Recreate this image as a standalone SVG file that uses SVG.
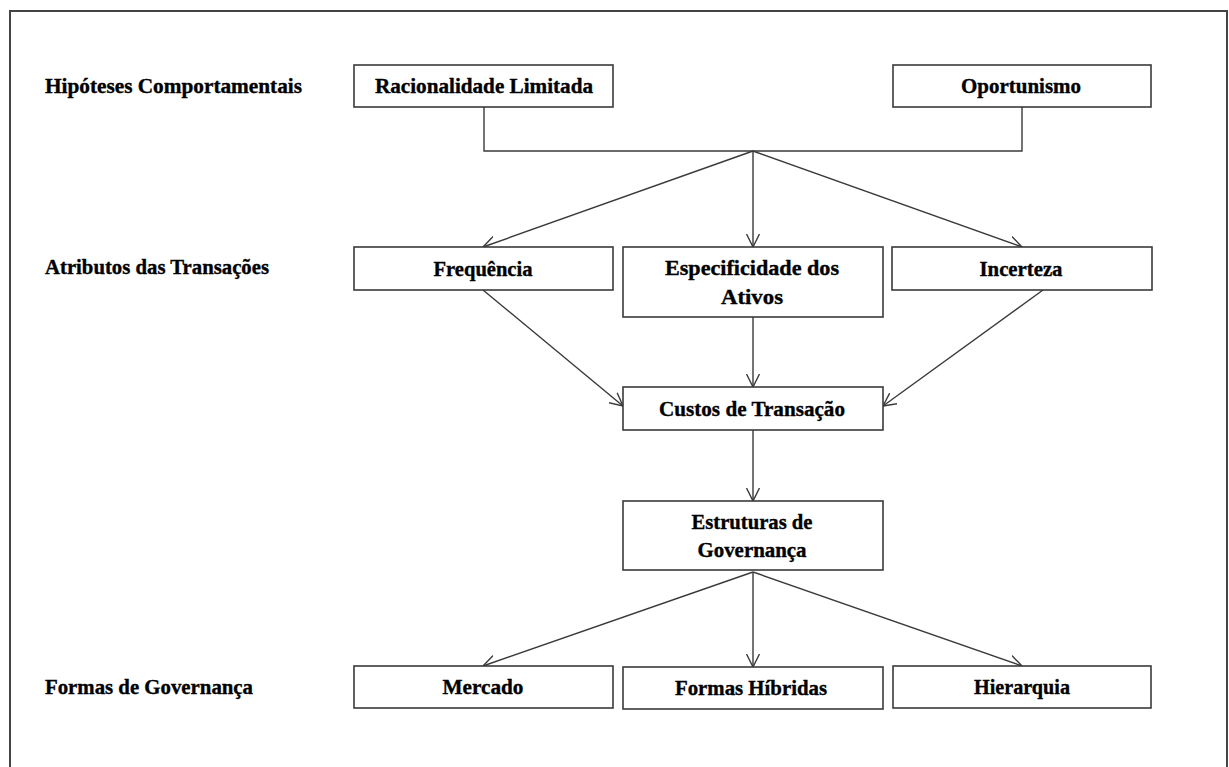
<svg xmlns="http://www.w3.org/2000/svg" width="1229" height="767" viewBox="0 0 1229 767">
<style>
.box{fill:#fff;stroke:#3a3a3a;stroke-width:1.6}
.t{font-family:"Liberation Serif","Times New Roman",serif;font-weight:bold;font-size:20.5px;fill:#000;stroke:#000;stroke-width:0.35}
.c{text-anchor:middle}
.ln{fill:none;stroke:#3a3a3a;stroke-width:1.4}
</style>
<defs>
<marker id="arr" viewBox="0 0 14 14" refX="13" refY="7" markerWidth="14" markerHeight="14" markerUnits="userSpaceOnUse" orient="auto">
<path d="M0,0.5 L13,7 L0,13.5" fill="none" stroke="#3a3a3a" stroke-width="1.4"/>
</marker>
</defs>
<rect x="0" y="0" width="1229" height="767" fill="#fff"/>
<rect x="10" y="11" width="1217" height="800" fill="none" stroke="#444" stroke-width="2"/>

<g id="labels">
<text class="t" x="45" y="93" textLength="257" lengthAdjust="spacingAndGlyphs">Hipóteses Comportamentais</text>
<text class="t" x="45" y="274" textLength="224" lengthAdjust="spacingAndGlyphs">Atributos das Transações</text>
<text class="t" x="45" y="694" textLength="208" lengthAdjust="spacingAndGlyphs">Formas de Governança</text>
</g>

<g id="connectors">
<polyline class="ln" points="484,107 484,151 1022,151 1022,107"/>
<line class="ln" x1="753" y1="151" x2="483" y2="247" marker-end="url(#arr)"/>
<line class="ln" x1="753" y1="151" x2="753" y2="247" marker-end="url(#arr)"/>
<line class="ln" x1="753" y1="151" x2="1022" y2="247" marker-end="url(#arr)"/>
<line class="ln" x1="483" y1="290" x2="623" y2="406" marker-end="url(#arr)"/>
<line class="ln" x1="753" y1="317" x2="753" y2="387" marker-end="url(#arr)"/>
<line class="ln" x1="1043" y1="290" x2="883" y2="406" marker-end="url(#arr)"/>
<line class="ln" x1="753" y1="430" x2="753" y2="501" marker-end="url(#arr)"/>
<line class="ln" x1="753" y1="572" x2="483" y2="666" marker-end="url(#arr)"/>
<line class="ln" x1="753" y1="572" x2="753" y2="667" marker-end="url(#arr)"/>
<line class="ln" x1="753" y1="572" x2="1022" y2="666" marker-end="url(#arr)"/>
</g>

<g id="racionalidade">
<rect class="box" x="354" y="65" width="259" height="42"/>
<text class="t c" x="484" y="93" textLength="218" lengthAdjust="spacingAndGlyphs">Racionalidade Limitada</text>
</g>
<g id="oportunismo">
<rect class="box" x="893" y="65" width="258" height="42"/>
<text class="t c" x="1021" y="93" textLength="120" lengthAdjust="spacingAndGlyphs">Oportunismo</text>
</g>

<g id="frequencia">
<rect class="box" x="354" y="247" width="259" height="43"/>
<text class="t c" x="483" y="276" textLength="99" lengthAdjust="spacingAndGlyphs">Frequência</text>
</g>
<g id="especificidade">
<rect class="box" x="623" y="247" width="260" height="70"/>
<text class="t c" x="752" y="275" textLength="174" lengthAdjust="spacingAndGlyphs">Especificidade dos</text>
<text class="t c" x="752" y="304" textLength="62" lengthAdjust="spacingAndGlyphs">Ativos</text>
</g>
<g id="incerteza">
<rect class="box" x="892" y="247" width="260" height="43"/>
<text class="t c" x="1021" y="276" textLength="83" lengthAdjust="spacingAndGlyphs">Incerteza</text>
</g>

<g id="custos">
<rect class="box" x="623" y="387" width="260" height="43"/>
<text class="t c" x="752" y="416" textLength="186" lengthAdjust="spacingAndGlyphs">Custos de Transação</text>
</g>

<g id="estruturas">
<rect class="box" x="623" y="501" width="260" height="69"/>
<text class="t c" x="752" y="529" textLength="121" lengthAdjust="spacingAndGlyphs">Estruturas de</text>
<text class="t c" x="752" y="557" textLength="109" lengthAdjust="spacingAndGlyphs">Governança</text>
</g>

<g id="mercado">
<rect class="box" x="354" y="666" width="259" height="42"/>
<text class="t c" x="483" y="694" textLength="81" lengthAdjust="spacingAndGlyphs">Mercado</text>
</g>
<g id="hibridas">
<rect class="box" x="623" y="667" width="260" height="42"/>
<text class="t c" x="751" y="695" textLength="152" lengthAdjust="spacingAndGlyphs">Formas Híbridas</text>
</g>
<g id="hierarquia">
<rect class="box" x="893" y="666" width="258" height="42"/>
<text class="t c" x="1022" y="694" textLength="96" lengthAdjust="spacingAndGlyphs">Hierarquia</text>
</g>
</svg>
